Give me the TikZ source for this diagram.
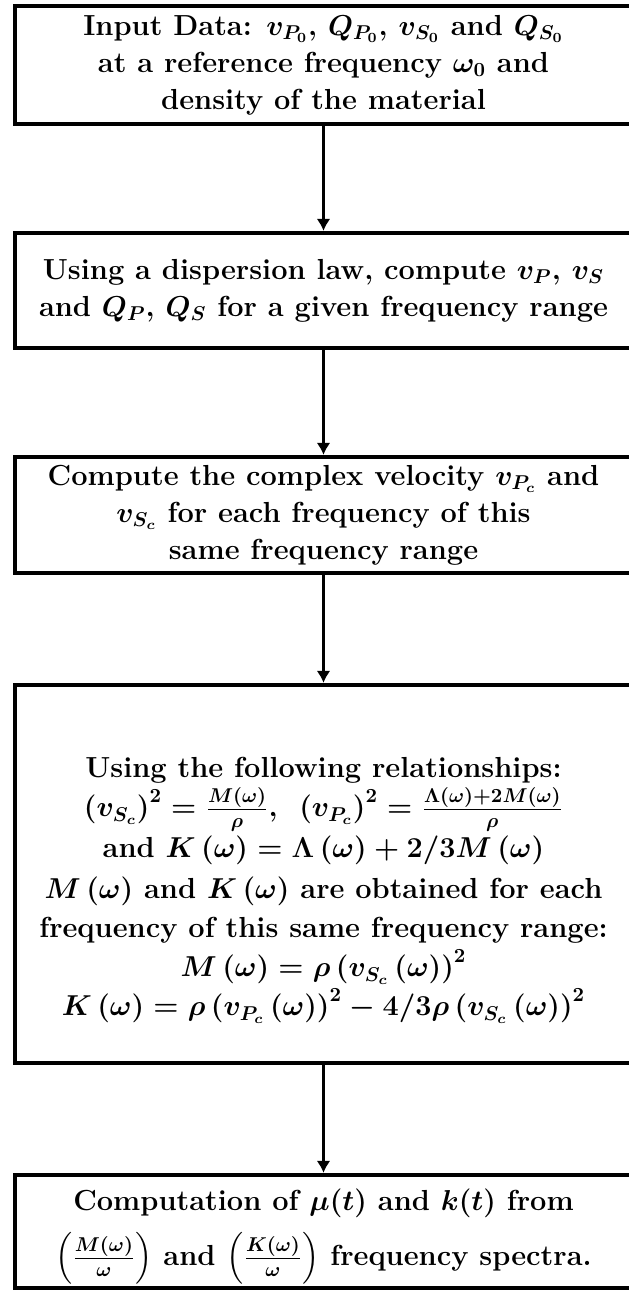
\documentclass[tikz,border=0pt]{standalone}
\usepackage{amsmath}
\usepackage{tikz}
\usetikzlibrary{arrows.meta,positioning}

\begin{document}
\begin{tikzpicture}[x=0.5pt,y=-0.5pt,
    stepbox/.style={draw,line width=2.2pt,rectangle,align=center,
      minimum width=308.5pt,inner sep=0pt,
      font=\fontsize{14.5}{18.5}\selectfont\bfseries\boldmath},
    flow/.style={line width=1.9pt,-{Latex[length=6pt,width=7pt]}}]
  \useasboundingbox (0,0) rectangle (628,1292);
  \node[stepbox,minimum height=59pt] (input) at (323.5,65)
    {Input Data: $v_{P_0}$, $Q_{P_0}$, $v_{S_0}$ and $Q_{S_0}$\\
     at a reference frequency $\omega_0$ and\\
     density of the material};
  \node[stepbox,minimum height=57.5pt] (disp) at (323.5,290.5)
    {Using a dispersion law, compute $v_P$, $v_S$\\
     and $Q_P$, $Q_S$ for a given frequency range};
  \node[stepbox,minimum height=58pt] (cvel) at (323.5,515)
    {Compute the complex velocity $v_{P_c}$ and\\
     $v_{S_c}$ for each frequency of this\\
     same frequency range};
  \node[stepbox,minimum height=189pt] (moduli) at (323.5,874)
    {\\[8pt]Using the following relationships:\\[1pt]
     $\left(v_{S_c}\right)^2=\frac{M(\omega)}{\rho}$,\ \
     $\left(v_{P_c}\right)^2=\frac{\Lambda(\omega)+2M(\omega)}{\rho}$\\[2pt]
     and $K\left(\omega\right)=\Lambda\left(\omega\right)+2/3M\left(\omega\right)$\\[2pt]
     $M\left(\omega\right)$ and $K\left(\omega\right)$ are obtained for each\\[1pt]
     frequency of this same frequency range:\\[1pt]
     $M\left(\omega\right)=\rho\left(v_{S_c}\left(\omega\right)\right)^2$\\[1pt]
     $K\left(\omega\right)=\rho\left(v_{P_c}\left(\omega\right)\right)^2-4/3\rho\left(v_{S_c}\left(\omega\right)\right)^2$};
  \node[stepbox,minimum height=56.5pt] (spectra) at (323.5,1231.5)
    {\rule{0pt}{16pt}Computation of $\mu(t)$ and $k(t)$ from\\[6pt]
     $\left(\frac{M(\omega)}{\omega}\right)$ and
     $\left(\frac{K(\omega)}{\omega}\right)$ frequency spectra.};
  % arrows between the steps
  \draw[flow] (input) -- (disp);
  \draw[flow] (disp) -- (cvel);
  \draw[flow] (cvel) -- (moduli);
  \draw[flow] (moduli) -- (spectra);
\end{tikzpicture}
\end{document}
